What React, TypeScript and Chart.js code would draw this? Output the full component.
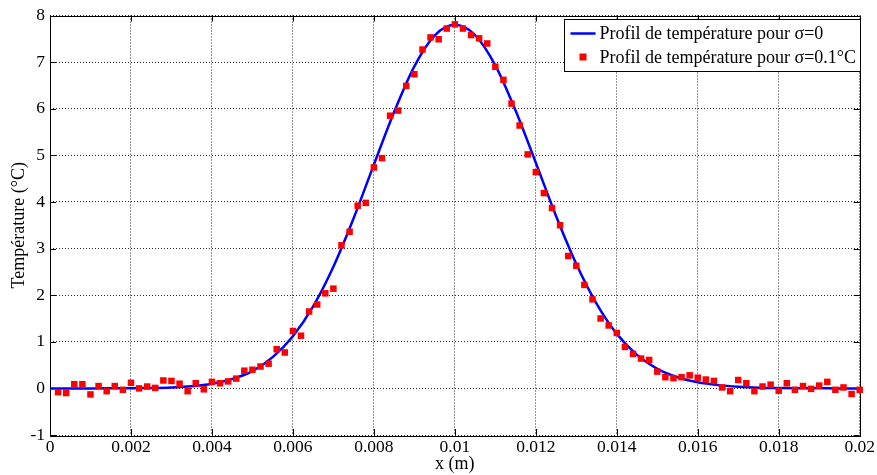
import React, { useEffect, useRef } from 'react';
import { Chart, registerables } from 'chart.js';

Chart.register(...registerables);

// Smooth profile (sigma = 0)
const profileX = [
  0, 0.0005, 0.001, 0.0015, 0.002, 0.0025, 0.003, 0.0035, 0.004, 0.0045,
  0.005, 0.0055, 0.006, 0.0065, 0.007, 0.0075, 0.008, 0.0085, 0.009, 0.0095,
  0.01, 0.0105, 0.011, 0.0115, 0.012, 0.0125, 0.013, 0.0135, 0.014, 0.0145,
  0.015, 0.0155, 0.016, 0.0165, 0.017, 0.0175, 0.018, 0.0185, 0.019, 0.0195, 0.02,
];
const profileT = [
  0, 0, 0, 0.001, 0.003, 0.008, 0.02, 0.046, 0.1, 0.2,
  0.37, 0.67, 1.12, 1.76, 2.61, 3.65, 4.8, 5.93, 6.91, 7.57,
  7.8, 7.58, 6.93, 5.96, 4.84, 3.7, 2.67, 1.82, 1.17, 0.72,
  0.42, 0.24, 0.13, 0.07, 0.035, 0.015, 0.006, 0.002, 0.001, 0, 0,
];

// Noisy profile (sigma = 0.1 °C), samples every 0.0002 m starting at 0.0002
const noisyStart = 0.0002;
const noisyStep = 0.0002;
const noisyT = [
  -0.08, -0.1, 0.09, 0.09, -0.13, 0.05, -0.06, 0.05, -0.03, 0.12,
  0.0, 0.04, 0.01, 0.17, 0.16, 0.1, -0.06, 0.11, -0.02, 0.14,
  0.11, 0.15, 0.21, 0.38, 0.4, 0.47, 0.53, 0.84, 0.77, 1.23,
  1.13, 1.65, 1.8, 2.04, 2.14, 3.07, 3.36, 3.92, 3.98, 4.74,
  4.94, 5.85, 5.96, 6.49, 6.74, 7.27, 7.53, 7.49, 7.72, 7.81,
  7.72, 7.58, 7.51, 7.4, 6.9, 6.62, 6.11, 5.64, 5.02, 4.64,
  4.19, 3.87, 3.5, 2.84, 2.63, 2.22, 1.91, 1.5, 1.35, 1.19,
  0.89, 0.74, 0.64, 0.61, 0.36, 0.24, 0.22, 0.24, 0.28, 0.23,
  0.19, 0.16, 0.02, -0.06, 0.18, 0.11, -0.06, 0.04, 0.08, -0.05,
  0.11, -0.03, 0.05, -0.01, 0.06, 0.14, -0.03, 0.02, -0.12, -0.03,
];

const xTicks = [0, 0.002, 0.004, 0.006, 0.008, 0.01, 0.012, 0.014, 0.016, 0.018, 0.02];
const xTickLabels = ['0', '0.002', '0.004', '0.006', '0.008', '0.01', '0.012', '0.014', '0.016', '0.018', '0.02'];
const yTicks = [-1, 0, 1, 2, 3, 4, 5, 6, 7, 8];
const yTickLabels = ['-1', '0', '1', '2', '3', '4', '5', '6', '7', '8'];

const seriesLabels = ['Profil de température pour σ=0', 'Profil de température pour σ=0.1°C'];
const xTitle = 'x (m)';
const yTitle = 'Température (°C)';

const FONT = "'Liberation Serif', 'Times New Roman', serif";
const BLUE = '#0000ff';
const RED = '#ff0000';

const framePlugin = {
  id: 'matlabFrame',
  beforeDatasetsDraw(chart: any) {
    const { ctx, chartArea: a, scales } = chart;
    ctx.save();
    ctx.strokeStyle = '#000';
    ctx.lineWidth = 1;
    ctx.strokeRect(Math.round(a.left) + 0.5, Math.round(a.top) + 0.5, Math.round(a.right - a.left), Math.round(a.bottom - a.top));
    const L = 6;
    ctx.beginPath();
    scales.x.ticks.forEach((t: any) => {
      const px = Math.round(scales.x.getPixelForValue(t.value)) + 0.5;
      ctx.moveTo(px, a.bottom);
      ctx.lineTo(px, a.bottom - L);
      ctx.moveTo(px, a.top);
      ctx.lineTo(px, a.top + L);
    });
    scales.y.ticks.forEach((t: any) => {
      const py = Math.round(scales.y.getPixelForValue(t.value)) + 0.5;
      ctx.moveTo(a.left, py);
      ctx.lineTo(a.left + L, py);
      ctx.moveTo(a.right, py);
      ctx.lineTo(a.right - L, py);
    });
    ctx.stroke();
    ctx.restore();
  },
  afterDraw(chart: any) {
    const { ctx, chartArea: a } = chart;
    const w = 296;
    const h = 52;
    const bx = Math.round(a.right) - w + 0.5;
    const by = Math.round(a.top) + 3.5;
    ctx.save();
    ctx.fillStyle = '#fff';
    ctx.fillRect(bx, by, w, h);
    ctx.strokeStyle = '#000';
    ctx.lineWidth = 1;
    ctx.strokeRect(bx, by, w, h);
    const r1 = by + 14;
    const r2 = by + 37.5;
    ctx.strokeStyle = BLUE;
    ctx.lineWidth = 2.5;
    ctx.beginPath();
    ctx.moveTo(bx + 6, r1);
    ctx.lineTo(bx + 31, r1);
    ctx.stroke();
    ctx.fillStyle = RED;
    ctx.fillRect(bx + 15, r2 - 3.5, 7, 7);
    ctx.fillStyle = '#000';
    ctx.font = `18px ${FONT}`;
    ctx.textBaseline = 'middle';
    ctx.textAlign = 'left';
    ctx.fillText(seriesLabels[0], bx + 35, r1 + 1);
    ctx.fillText(seriesLabels[1], bx + 35, r2 + 1);
    ctx.restore();
  },
};

export default function App() {
  const canvasRef = useRef<HTMLCanvasElement | null>(null);

  useEffect(() => {
    document.body.style.margin = '0';
    const canvas = canvasRef.current;
    if (!canvas) return;

    const lineData = profileX.map((x, i) => ({ x, y: profileT[i] }));
    const pointData = noisyT.map((y, i) => ({ x: noisyStart + i * noisyStep, y }));

    const chart = new Chart(canvas, {
      type: 'scatter',
      data: {
        datasets: [
          {
            type: 'line',
            label: seriesLabels[0],
            data: lineData,
            borderColor: BLUE,
            backgroundColor: BLUE,
            borderWidth: 2.5,
            pointRadius: 0,
            showLine: true,
            cubicInterpolationMode: 'monotone',
            fill: false,
            order: 1,
          } as any,
          {
            label: seriesLabels[1],
            data: pointData,
            pointStyle: 'rect',
            pointRadius: 4.6,
            backgroundColor: RED,
            borderColor: RED,
            borderWidth: 0,
            showLine: false,
            order: 0,
            clip: false,
          } as any,
        ],
      },
      options: {
        responsive: false,
        animation: false,
        events: [],
        layout: { padding: { top: 12, right: 15, left: 0, bottom: 0 } },
        plugins: {
          legend: { display: false },
          tooltip: { enabled: false },
        },
        scales: {
          x: {
            type: 'linear',
            min: 0,
            max: 0.02,
            afterBuildTicks: (s: any) => {
              s.ticks = xTicks.map((v) => ({ value: v }));
            },
            afterFit: (s: any) => {
              s.height = 40;
            },
            ticks: {
              callback: (_v: any, i: number) => xTickLabels[i],
              color: '#000',
              font: { family: FONT, size: 17.5 },
              padding: 2,
              maxRotation: 0,
              autoSkip: false,
            },
            grid: {
              color: 'rgba(0,0,0,0.85)',
              lineWidth: 1,
              drawTicks: false,
            },
            border: { display: false, dash: [1, 2] },
            title: {
              display: true,
              text: xTitle,
              color: '#000',
              font: { family: FONT, size: 18 },
              padding: { top: 0, bottom: 0 },
            },
          },
          y: {
            type: 'linear',
            min: -1,
            max: 8,
            afterBuildTicks: (s: any) => {
              s.ticks = yTicks.map((v) => ({ value: v }));
            },
            afterFit: (s: any) => {
              s.width = 50;
            },
            ticks: {
              callback: (_v: any, i: number) => yTickLabels[i],
              color: '#000',
              font: { family: FONT, size: 17.5 },
              padding: 5,
              autoSkip: false,
            },
            grid: {
              color: 'rgba(0,0,0,0.85)',
              lineWidth: 1,
              drawTicks: false,
            },
            border: { display: false, dash: [1, 2] },
            title: {
              display: true,
              text: yTitle,
              color: '#000',
              font: { family: FONT, size: 18 },
              padding: { top: 8, bottom: 0 },
            },
          },
        },
      },
      plugins: [framePlugin],
    });

    return () => {
      chart.destroy();
    };
  }, []);

  return (
    <div style={{ width: 877, height: 475, background: '#fff' }}>
      <canvas ref={canvasRef} width={877} height={475} style={{ display: 'block' }} />
    </div>
  );
}
